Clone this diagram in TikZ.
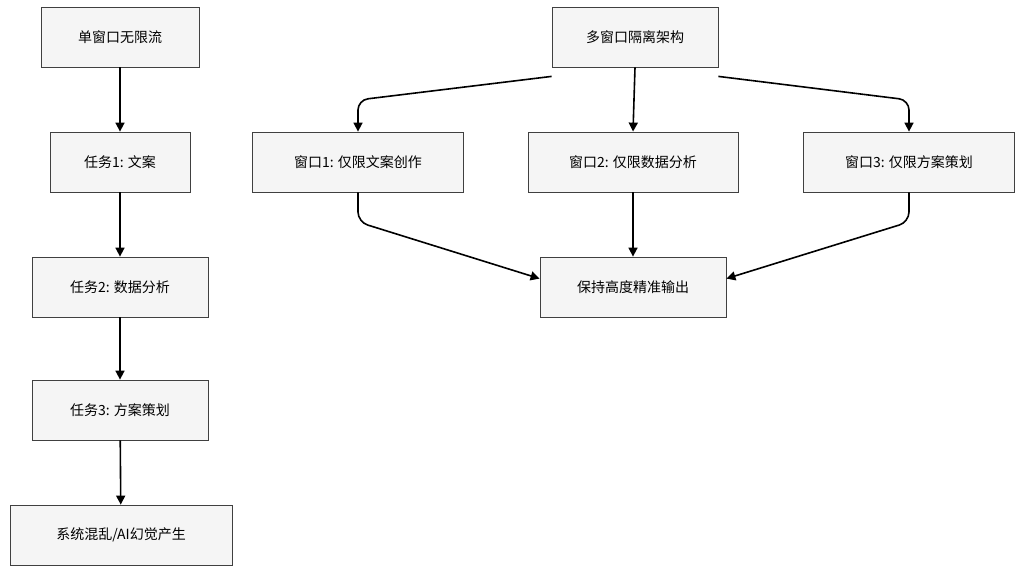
\documentclass[tikz,border=0pt]{standalone}
\usepackage{fontspec}
\setmainfont{Noto Sans CJK SC}
\usetikzlibrary{arrows.meta}
\begin{document}
\begin{tikzpicture}[x=1pt,y=-1pt,
  box/.style={draw=black!75,fill=black!4,line width=0.8pt,minimum height=60pt,font=\fontsize{14}{16}\selectfont},
  arr/.style={-{Triangle[length=9pt,width=9pt]},line width=1.6pt,rounded corners=10pt}]
\useasboundingbox (0,0) rectangle (1024,574);
\node[box,minimum width=158pt] (a) at (120,37) {单窗口无限流};
\node[box,minimum width=140pt] (b) at (120,162) {任务1: 文案};
\node[box,minimum width=176pt] (c) at (120,287) {任务2: 数据分析};
\node[box,minimum width=176pt] (d) at (120,410) {任务3: 方案策划};
\node[box,minimum width=222pt] (e) at (121,535) {系统混乱/AI幻觉产生};
\node[box,minimum width=166pt] (m) at (635,37) {多窗口隔离架构};
\node[box,minimum width=211pt] (w1) at (358,162) {窗口1: 仅限文案创作};
\node[box,minimum width=210pt] (w2) at (633,162) {窗口2: 仅限数据分析};
\node[box,minimum width=211pt] (w3) at (909,162) {窗口3: 仅限方案策划};
\node[box,minimum width=186pt] (o) at (633,287) {保持高度精准输出};
\draw[arr] (a) -- (b);
\draw[arr] (b) -- (c);
\draw[arr] (c) -- (d);
\draw[arr] (d) -- (e);
\coordinate (k1) at (358,100);
\coordinate (k3) at (909,100);
\coordinate (j1) at (358,222);
\coordinate (j3) at (909,222);
\draw[arr] ([yshift=-9pt]m.south west) -- (k1) -- (w1.north);
\draw[arr] ([yshift=-9pt]m.south east) -- (k3) -- (w3.north);
\draw[arr] (m.south) -- (w2.north);
\draw[arr] (w1.south) -- (j1) -- ([yshift=-22pt]o.north west);
\draw[arr] (w3.south) -- (j3) -- ([yshift=-22pt]o.north east);
\draw[arr] (w2.south) -- (o.north);
\end{tikzpicture}
\end{document}
